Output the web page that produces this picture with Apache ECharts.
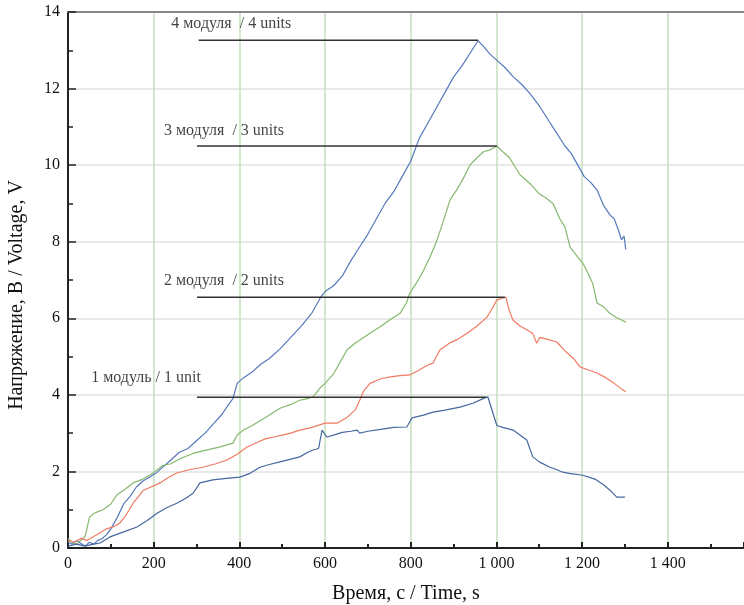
<!DOCTYPE html>
<html>
<head>
    <meta charset="UTF-8" />
    <script src="https://cdn.jsdelivr.net/npm/echarts@6/dist/echarts.min.js"></script>
</head>
<body style="margin: 0; overflow: hidden; background: #fff">
    <div id="chart" style="width: 744px; height: 605px"></div>
    <script type="text/javascript">
        // 4 модуля (blue, top curve)
        var t4 = [0, 10, 20, 30, 40, 50, 60, 70, 80, 90, 100, 115, 130, 145, 160, 175, 190, 205, 220, 240, 260, 280, 300, 320, 340, 360, 375, 385, 395, 410, 430, 450, 470, 495, 520, 545, 570, 590, 600, 620, 640, 660, 680, 700, 720, 740, 760, 780, 800, 820, 840, 860, 880, 900, 920, 940, 957, 970, 985, 1000, 1020, 1040, 1060, 1080, 1100, 1120, 1140, 1160, 1175, 1190, 1205, 1220, 1235, 1250, 1265, 1275, 1285, 1292, 1298, 1302];
        var v4 = [0.15, 0.1, 0.2, 0.12, 0.05, 0.15, 0.1, 0.2, 0.25, 0.35, 0.5, 0.8, 1.15, 1.35, 1.6, 1.75, 1.85, 1.95, 2.1, 2.3, 2.5, 2.6, 2.8, 3.0, 3.25, 3.5, 3.75, 3.9, 4.3, 4.45, 4.6, 4.8, 4.95, 5.2, 5.5, 5.8, 6.15, 6.55, 6.7, 6.85, 7.1, 7.5, 7.85, 8.2, 8.6, 9.0, 9.3, 9.7, 10.1, 10.7, 11.1, 11.5, 11.9, 12.3, 12.6, 12.95, 13.25, 13.1, 12.9, 12.75, 12.55, 12.3, 12.1, 11.85, 11.55, 11.2, 10.85, 10.5, 10.3, 10.0, 9.7, 9.55, 9.35, 8.95, 8.7, 8.6, 8.3, 8.05, 8.15, 7.8];

        // 3 модуля (green)
        var t3 = [0, 10, 20, 30, 40, 50, 60, 70, 82, 100, 115, 135, 152, 175, 198, 220, 240, 265, 292, 320, 355, 385, 395, 410, 430, 460, 495, 520, 541, 560, 572, 590, 600, 620, 640, 651, 670, 690, 710, 728, 750, 775, 790, 798, 815, 830, 845, 860, 875, 892, 910, 925, 938, 955, 970, 985, 1001, 1015, 1030, 1055, 1080, 1100, 1115, 1132, 1148, 1160, 1172, 1190, 1202, 1215, 1225, 1235, 1250, 1265, 1280, 1290, 1302];
        var v3 = [0.25, 0.15, 0.1, 0.2, 0.3, 0.8, 0.9, 0.95, 1.0, 1.15, 1.4, 1.55, 1.7, 1.8, 1.95, 2.15, 2.2, 2.35, 2.47, 2.55, 2.64, 2.74, 2.95, 3.08, 3.2, 3.4, 3.65, 3.75, 3.86, 3.9, 3.95, 4.2, 4.3, 4.55, 4.95, 5.17, 5.35, 5.5, 5.65, 5.77, 5.95, 6.13, 6.4, 6.66, 6.95, 7.25, 7.6, 8.0, 8.5, 9.1, 9.4, 9.7, 10.0, 10.2, 10.35, 10.4, 10.5, 10.35, 10.2, 9.75, 9.5, 9.25, 9.15, 9.0, 8.6, 8.38, 7.86, 7.6, 7.44, 7.15, 6.9, 6.4, 6.3, 6.13, 6.02, 5.97, 5.9];

        // 2 модуля (red)
        var t2 = [0, 15, 30, 45, 60, 75, 90, 105, 121, 135, 152, 165, 175, 195, 215, 235, 254, 285, 315, 345, 371, 395, 418, 440, 460, 480, 500, 520, 541, 570, 600, 628, 650, 670, 681, 690, 705, 730, 752, 775, 798, 820, 840, 852, 868, 890, 910, 931, 955, 978, 990, 1001, 1015, 1022, 1030, 1039, 1055, 1071, 1085, 1094, 1101, 1120, 1141, 1160, 1180, 1195, 1215, 1235, 1255, 1275, 1295, 1302];
        var v2 = [0.2, 0.15, 0.25, 0.2, 0.3, 0.4, 0.5, 0.55, 0.65, 0.85, 1.17, 1.35, 1.5, 1.6, 1.7, 1.85, 1.96, 2.05, 2.11, 2.2, 2.3, 2.45, 2.64, 2.75, 2.85, 2.9, 2.95, 3.0, 3.08, 3.15, 3.26, 3.26, 3.4, 3.6, 3.86, 4.1, 4.3, 4.42, 4.47, 4.5, 4.52, 4.65, 4.78, 4.83, 5.17, 5.35, 5.45, 5.6, 5.8, 6.03, 6.25, 6.48, 6.53, 6.55, 6.2, 5.95, 5.8, 5.7, 5.6, 5.35, 5.5, 5.45, 5.38, 5.15, 4.95, 4.73, 4.65, 4.57, 4.45, 4.3, 4.13, 4.08];

        // 1 модуль (blue, bottom curve)
        var t1 = [0, 20, 40, 60, 75, 98, 130, 161, 185, 208, 230, 254, 275, 292, 308, 338, 370, 401, 425, 448, 470, 495, 520, 541, 560, 572, 585, 593, 604, 620, 640, 660, 675, 681, 700, 730, 760, 791, 803, 830, 852, 880, 915, 945, 973, 980, 992, 1001, 1015, 1039, 1055, 1071, 1085, 1100, 1125, 1140, 1155, 1170, 1202, 1230, 1250, 1265, 1281, 1292, 1300];
        var v1 = [0.05, 0.1, 0.05, 0.1, 0.13, 0.29, 0.42, 0.55, 0.72, 0.91, 1.05, 1.17, 1.3, 1.43, 1.7, 1.78, 1.82, 1.85, 1.95, 2.11, 2.18, 2.25, 2.32, 2.38, 2.5, 2.56, 2.6, 3.08, 2.9, 2.95, 3.02, 3.05, 3.08, 3.0, 3.05, 3.1, 3.15, 3.16, 3.4, 3.47, 3.55, 3.6, 3.68, 3.78, 3.92, 3.95, 3.52, 3.2, 3.15, 3.08, 2.95, 2.82, 2.38, 2.25, 2.11, 2.05, 1.98, 1.95, 1.9, 1.8, 1.65, 1.51, 1.33, 1.33, 1.33];

        // peak level lines: [start, end, level]
        var levelNames = ['4 модуля  / 4 units', '3 модуля  / 3 units', '2 модуля  / 2 units', '1 модуль / 1 unit'];
        var levelStart = [305, 301, 301, 301];
        var levelEnd = [957, 1001, 1020, 976];
        var levelValue = [13.26, 10.5, 6.55, 3.94];
        var labelX = [241, 224, 224, 54];
        var labelY = [13.68, 10.89, 6.97, 4.44];

        function pairs(t, v) {
            return t.map(function (x, i) { return [x, v[i]]; });
        }

        var series = [
            { data: pairs(t4, v4), color: '#5679bb' },
            { data: pairs(t3, v3), color: '#86b86e' },
            { data: pairs(t2, v2), color: '#ef7b62' },
            { data: pairs(t1, v1), color: '#46679f' }
        ].map(function (s) {
            return {
                type: 'line', data: s.data, symbol: 'none', silent: true,
                lineStyle: { color: s.color, width: 1.2 }, z: 3
            };
        });

        levelValue.forEach(function (y, i) {
            series.push({
                type: 'line', symbol: 'none', silent: true, z: 4,
                data: [[levelStart[i], y], [levelEnd[i], y]],
                lineStyle: { color: '#333', width: 1.5 }
            });
        });

        series.push({
            type: 'scatter', symbolSize: 0, silent: true,
            data: labelX.map(function (x, i) { return [x, labelY[i], levelNames[i]]; }),
            label: {
                show: true, position: 'right', distance: 0,
                formatter: function (p) { return p.data[2]; },
                fontFamily: 'Liberation Serif', fontSize: 16, color: '#111'
            }
        });

        var serif = 'Liberation Serif';
        var chart = echarts.init(document.getElementById('chart'));
        chart.setOption({
            animation: false,
            grid: { left: 68, right: 0, top: 12, bottom: 57, outerBoundsMode: 'none', containLabel: false },
            graphic: [{
                type: 'text', x: 17, y: 295, rotation: Math.PI / 2,
                style: {
                    text: 'Напряжение, В / Voltage, V', fontFamily: serif, fontSize: 20,
                    fill: '#111', align: 'center', verticalAlign: 'middle'
                }
            }],
            xAxis: [{
                type: 'value', min: 0, max: 1578, interval: 200,
                name: 'Время, с / Time, s', nameLocation: 'middle', nameGap: 36,
                nameTextStyle: { fontFamily: serif, fontSize: 20, color: '#111' },
                axisLine: { lineStyle: { color: '#222', width: 2 } },
                axisTick: { inside: true, length: 6, lineStyle: { color: '#222', width: 2 } },
                minorTick: { show: true, splitNumber: 2, length: 4, lineStyle: { color: '#222', width: 2 } },
                axisLabel: {
                    fontFamily: serif, fontSize: 16, color: '#111', margin: 8,
                    showMaxLabel: false,
                    formatter: function (v) { return v >= 1000 ? Math.floor(v / 1000) + ' ' + String(v % 1000).padStart(3, '0') : String(v); }
                },
                splitLine: { show: true, showMaxLine: false, lineStyle: { color: '#c5dfbf', width: 1.5 } }
            }, {
                type: 'value', position: 'top', min: 0, max: 1578,
                axisLine: { show: true, lineStyle: { color: '#888', width: 2 } },
                axisTick: { show: false }, axisLabel: { show: false }, splitLine: { show: false }
            }],
            yAxis: {
                type: 'value', min: 0, max: 14, interval: 2,
                axisLine: { show: true, lineStyle: { color: '#222', width: 2 } },
                axisTick: { show: true, inside: true, length: 8, lineStyle: { color: '#222', width: 1.5 } },
                minorTick: { show: true, splitNumber: 2, length: 5, lineStyle: { color: '#222', width: 1.5 } },
                axisLabel: { fontFamily: serif, fontSize: 16, color: '#111', margin: 8 },
                splitLine: { show: true, lineStyle: { color: '#e2e2e2', width: 1.5 } }
            },
            series: series
        });
    </script>
</body>
</html>
